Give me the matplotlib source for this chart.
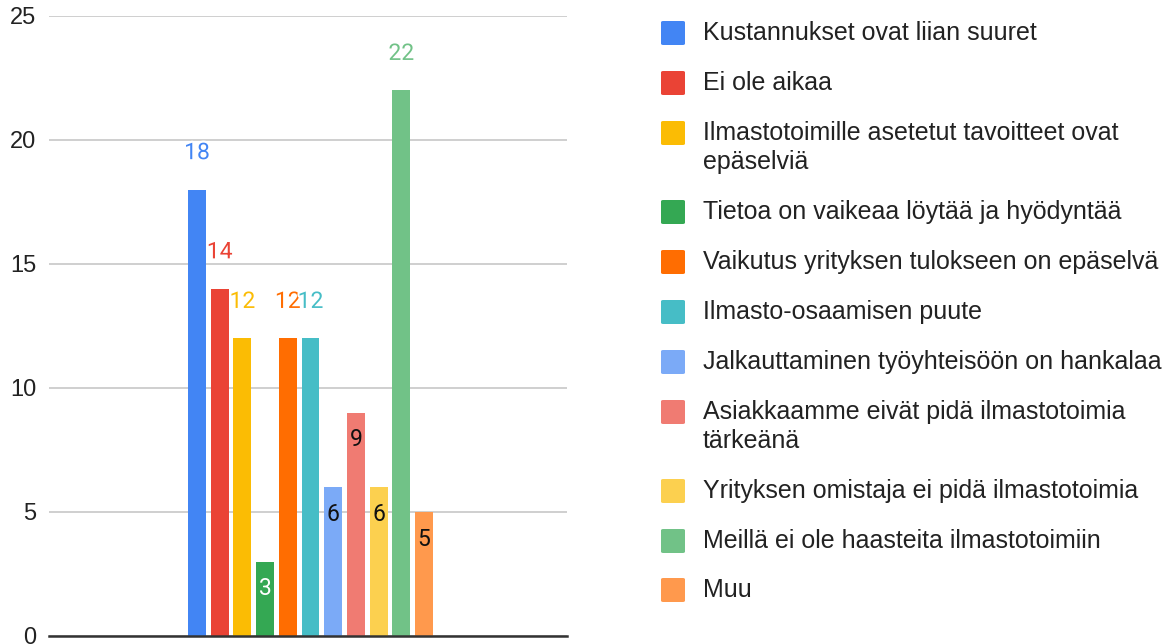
import matplotlib
matplotlib.use("Agg")
import matplotlib.pyplot as plt
import matplotlib.patheffects as pe
from matplotlib.patches import FancyBboxPatch

series_names = [
    "Kustannukset ovat liian suuret",
    "Ei ole aikaa",
    "Ilmastotoimille asetetut tavoitteet ovat\nepäselviä",
    "Tietoa on vaikeaa löytää ja hyödyntää",
    "Vaikutus yrityksen tulokseen on epäselvä",
    "Ilmasto-osaamisen puute",
    "Jalkauttaminen työyhteisöön on hankalaa",
    "Asiakkaamme eivät pidä ilmastotoimia\ntärkeänä",
    "Yrityksen omistaja ei pidä ilmastotoimia",
    "Meillä ei ole haasteita ilmastotoimiin",
    "Muu",
]
values = [18, 14, 12, 3, 12, 12, 6, 9, 6, 22, 5]
colors = ["#4285F4", "#EA4335", "#FBBC04", "#34A853", "#FF6D01", "#46BDC6",
          "#7BAAF7", "#F07B72", "#FCD04F", "#71C287", "#FF994D"]
# label placement as seen in the reference: above bar (coloured) or inside bar
label_inside = [False, False, False, True, False, False, True, True, True, False, True]
inside_label_color = {3: "white"}
yticks = [0, 5, 10, 15, 20, 25]

W, H = 1167, 644
fig = plt.figure(figsize=(W / 100, H / 100), dpi=100)
ax_left, ax_right, ax_bottom, ax_top = 49, 567, 636, 16
ax = fig.add_axes([ax_left / W, 1 - ax_bottom / H, (ax_right - ax_left) / W, (ax_bottom - ax_top) / H])

n = len(values)
offsets = [i - (n - 1) / 2 for i in range(n)]
px_per_unit = 22.7
center_px = 310.5
ax.set_xlim(-(center_px - ax_left) / px_per_unit, (ax_right - center_px) / px_per_unit)
ax.set_ylim(0, 25)

bars = ax.bar(offsets, values, width=0.79, color=colors, zorder=2)

for i, (x, v) in enumerate(zip(offsets, values)):
    if label_inside[i]:
        ax.annotate(str(v), xy=(x, v), xytext=(0, -19.5), textcoords="offset points",
                    ha="center", va="center", fontsize=16.5, family="Roboto",
                    color=inside_label_color.get(i, "#111111"), zorder=4)
    else:
        ax.annotate(str(v), xy=(x, v), xytext=(0, 26.6), textcoords="offset points",
                    ha="center", va="center", fontsize=16.5, family="Roboto",
                    color=colors[i], zorder=4,
                    path_effects=[pe.withStroke(linewidth=3, foreground="white")])

ax.set_yticks(yticks)
ax.set_yticklabels([str(t) for t in yticks], fontsize=17, family="Liberation Sans", color="#222222")
ax.set_xticks([])
ax.tick_params(axis="y", length=0, pad=9)
ax.grid(axis="y", color="#CCCCCC", linewidth=1.3, zorder=0)
for s in ["top", "right", "left"]:
    ax.spines[s].set_visible(False)
ax.spines["bottom"].set_color("#333333")
ax.spines["bottom"].set_linewidth(1.8)
ax.spines["bottom"].set_zorder(3)

# legend drawn manually to mirror the reference layout
legend_y = [33, 83, 133, 212, 262, 312, 362, 412, 491, 541, 590]
sq = 24
sq_x = 661
text_x = 703
line_gap = 29
for name, c, yc in zip(series_names, colors, legend_y):
    fig.patches.append(FancyBboxPatch(((sq_x) / W, 1 - (yc + sq / 2) / H), sq / W, sq / H,
                                      boxstyle="round,pad=0,rounding_size=0.002",
                                      transform=fig.transFigure, facecolor=c, edgecolor="none"))
    for k, line in enumerate(name.split("\n")):
        fig.text(text_x / W, 1 - (yc + k * line_gap) / H, line, ha="left", va="center",
                 fontsize=18, family="Liberation Sans", color="#222222")

fig.savefig("out.png", dpi=100, facecolor="white")
